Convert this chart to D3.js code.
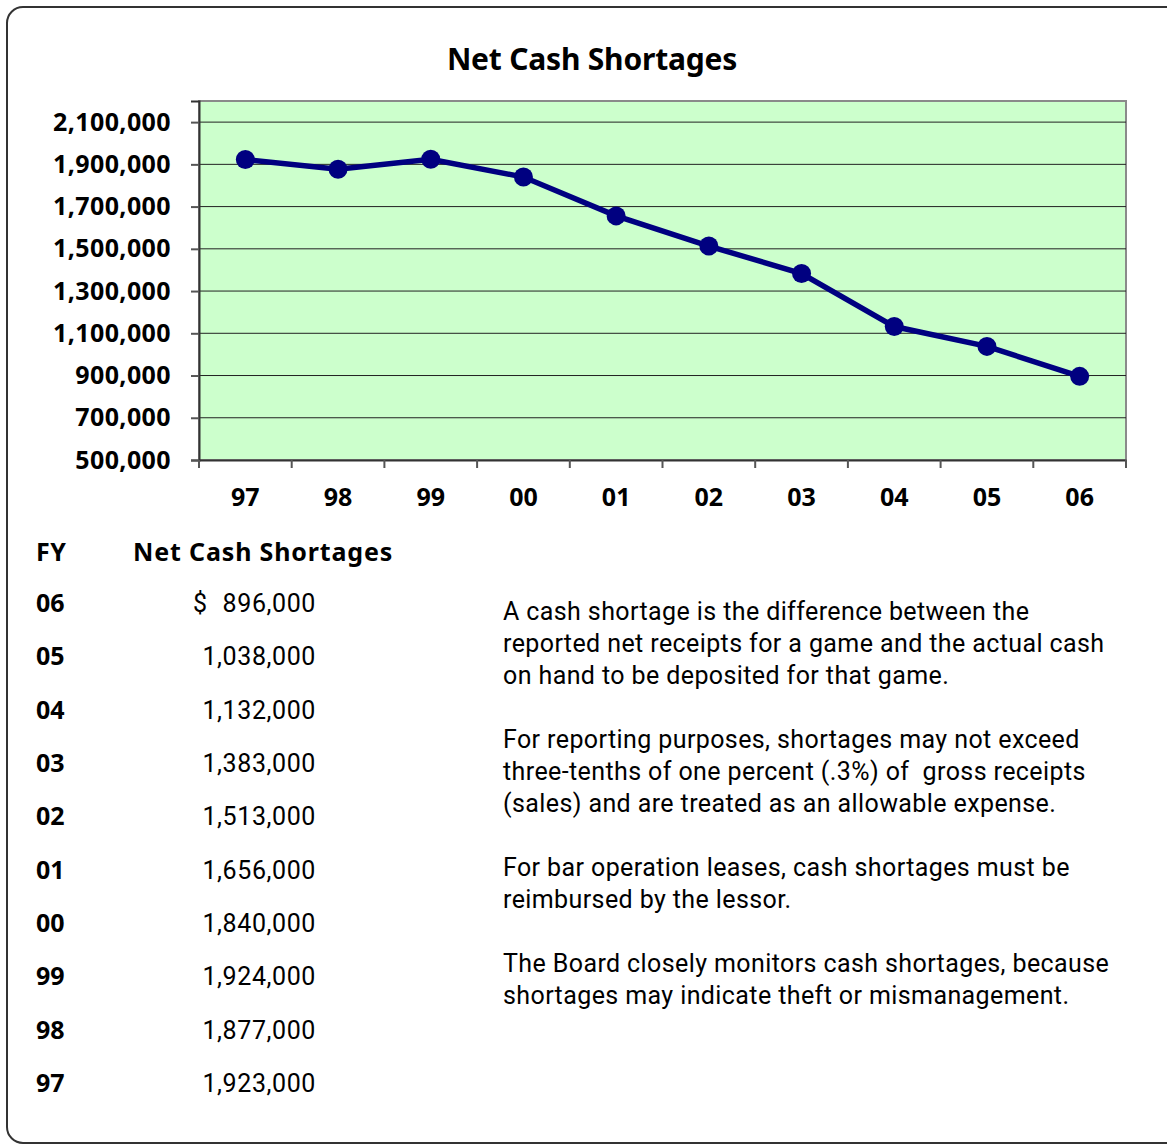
<!DOCTYPE html>
<html>
<head>
<meta charset="utf-8">
<script src="https://cdn.jsdelivr.net/npm/d3@7"></script>
<style>
  body { margin: 0; background: #fff; }
  svg text { fill: #000; white-space: pre; }
</style>
</head>
<body>
<div id="chart"></div>
<script>
// data
const years = ['97', '98', '99', '00', '01', '02', '03', '04', '05', '06'];
const shortages = [1923000, 1877000, 1924000, 1840000, 1656000, 1513000, 1383000, 1132000, 1038000, 896000];
const yTicks = [500000, 700000, 900000, 1100000, 1300000, 1500000, 1700000, 1900000, 2100000];
const tableYears = ['06', '05', '04', '03', '02', '01', '00', '99', '98', '97'];
const notes = [
  ['A cash shortage is the difference between the', 'reported net receipts for a game and the actual cash', 'on hand to be deposited for that game.'],
  ['For reporting purposes, shortages may not exceed', 'three-tenths of one percent (.3%) of  gross receipts', '(sales) and are treated as an allowable expense.'],
  ['For bar operation leases, cash shortages must be', 'reimbursed by the lessor.'],
  ['The Board closely monitors cash shortages, because', 'shortages may indicate theft or mismanagement.']
];

const width = 1167, height = 1145;
const plot = { left: 199, top: 101, right: 1126, bottom: 460 };
const boldFont = "'Noto Sans', sans-serif";
const bodyFont = "Roboto, sans-serif";

const svg = d3.select('#chart').append('svg')
  .attr('width', width)
  .attr('height', height);

// outer frame
svg.append('rect')
  .attr('x', 7).attr('y', 7)
  .attr('width', 1175).attr('height', 1136)
  .attr('rx', 16).attr('ry', 16)
  .attr('fill', 'none')
  .attr('stroke', '#333')
  .attr('stroke-width', 2);

svg.append('text')
  .attr('x', 592).attr('y', 70)
  .attr('text-anchor', 'middle')
  .attr('font-family', boldFont)
  .attr('font-weight', 'bold')
  .attr('font-size', 30)
  .attr('letter-spacing', -0.2)
  .text('Net Cash Shortages');

const x = d3.scaleBand().domain(years).range([plot.left, plot.right]);
const y = d3.scaleLinear().domain([500000, 2200000]).range([plot.bottom, plot.top]);

svg.append('rect')
  .attr('x', plot.left).attr('y', plot.top)
  .attr('width', plot.right - plot.left).attr('height', plot.bottom - plot.top)
  .attr('fill', '#ccffcc')
  .attr('stroke', '#8a8a8a')
  .attr('stroke-width', 2);

// gridlines
svg.append('g')
  .selectAll('line')
  .data(yTicks.slice(1))
  .join('line')
  .attr('x1', plot.left).attr('x2', plot.right)
  .attr('y1', d => y(d)).attr('y2', d => y(d))
  .attr('stroke', '#222')
  .attr('stroke-width', 1);

// y axis
const yAxis = svg.append('g')
  .attr('transform', `translate(${plot.left},0)`)
  .call(d3.axisLeft(y).tickValues(yTicks).tickFormat(d3.format(',')).tickSize(8).tickPadding(20));
yAxis.select('.domain').attr('stroke', '#333').attr('stroke-width', 2);
yAxis.selectAll('.tick line').attr('stroke', '#555').attr('stroke-width', 2);
yAxis.selectAll('text')
  .attr('font-family', boldFont)
  .attr('font-weight', 'bold')
  .attr('font-size', 25)
  .attr('letter-spacing', 0.4)
  .attr('fill', '#000');

// x axis, ticks between categories
const xAxis = svg.append('g')
  .attr('transform', `translate(0,${plot.bottom})`)
  .call(d3.axisBottom(x).tickSize(0).tickPadding(28));
xAxis.select('.domain').attr('stroke', '#333').attr('stroke-width', 2);
xAxis.selectAll('text')
  .attr('font-family', boldFont)
  .attr('font-weight', 'bold')
  .attr('font-size', 25)
  .attr('fill', '#000');
xAxis.selectAll('line.sep')
  .data(years.concat(['end']))
  .join('line')
  .attr('class', 'sep')
  .attr('x1', (d, i) => plot.left + i * x.step())
  .attr('x2', (d, i) => plot.left + i * x.step())
  .attr('y1', 0).attr('y2', 8)
  .attr('stroke', '#555')
  .attr('stroke-width', 2);

// series
const line = d3.line()
  .x((d, i) => x(years[i]) + x.bandwidth() / 2)
  .y(d => y(d));

svg.append('path')
  .datum(shortages)
  .attr('d', line)
  .attr('fill', 'none')
  .attr('stroke', '#000080')
  .attr('stroke-width', 5.5);

svg.append('g')
  .selectAll('circle')
  .data(shortages)
  .join('circle')
  .attr('cx', (d, i) => x(years[i]) + x.bandwidth() / 2)
  .attr('cy', d => y(d))
  .attr('r', 9.5)
  .attr('fill', '#000080');

// table below the chart
const rowY = d3.scalePoint().domain(tableYears).range([612, 1092]);
const lookup = new Map(years.map((yr, i) => [yr, shortages[i]]));

svg.append('text')
  .attr('x', 36).attr('y', 561)
  .attr('font-family', boldFont).attr('font-weight', 'bold').attr('font-size', 25)
  .attr('letter-spacing', 0.5)
  .attr('fill', '#222')
  .text('FY');
svg.append('text')
  .attr('x', 133).attr('y', 561)
  .attr('font-family', boldFont).attr('font-weight', 'bold').attr('font-size', 25)
  .attr('letter-spacing', 0.85)
  .attr('fill', '#222')
  .text('Net Cash Shortages');

const rows = svg.append('g').selectAll('g')
  .data(tableYears)
  .join('g')
  .attr('transform', d => `translate(0,${rowY(d)})`);

rows.append('text')
  .attr('x', 36)
  .attr('font-family', boldFont).attr('font-weight', 'bold').attr('font-size', 25)
  .attr('fill', '#222')
  .text(d => d);

rows.append('text')
  .attr('x', 316)
  .attr('text-anchor', 'end')
  .attr('font-family', bodyFont).attr('font-size', 25)
  .attr('letter-spacing', 0.6)
  .attr('fill', '#222')
  .text(d => d3.format(',')(lookup.get(d)));

rows.filter((d, i) => i === 0).append('text')
  .attr('x', 193)
  .attr('font-family', bodyFont).attr('font-size', 25)
  .attr('fill', '#222')
  .text('$');

// explanatory notes
let lineY = 620;
notes.forEach(par => {
  par.forEach(txt => {
    svg.append('text')
      .attr('x', 503).attr('y', lineY)
      .attr('font-family', bodyFont).attr('font-size', 25)
      .attr('letter-spacing', 0.4)
      .attr('fill', '#222')
      .text(txt);
    lineY += 32;
  });
  lineY += 32;
});
</script>
</body>
</html>
